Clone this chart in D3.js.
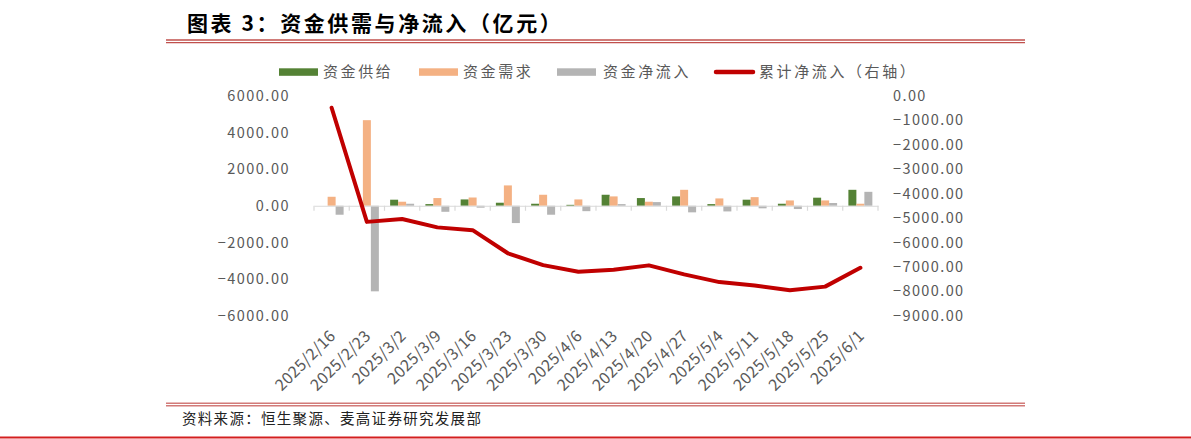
<!DOCTYPE html>
<html>
<head>
<meta charset="utf-8">
<script src="https://cdn.jsdelivr.net/npm/d3@7"></script>
<style>
  html, body { margin: 0; padding: 0; background: #fff; }
  svg { display: block; }
  text { font-family: "Noto Sans CJK SC", "Noto Sans", sans-serif; }
</style>
</head>
<body>
<svg id="chart" width="1191" height="439"></svg>
<script>
// ---- data ----
const categories = ["2025/2/16","2025/2/23","2025/3/2","2025/3/9","2025/3/16","2025/3/23","2025/3/30","2025/4/6","2025/4/13","2025/4/20","2025/4/27","2025/5/4","2025/5/11","2025/5/18","2025/5/25","2025/6/1"];
const supply = [0, 0, 330, 90, 345, 165, 110, 50, 600, 420, 510, 90, 330, 110, 440, 870];
const demand = [490, 4670, 220, 420, 450, 1110, 600, 345, 510, 220, 870, 400, 470, 290, 290, 110];
const netFlow = [-490, -4670, 110, -330, -105, -945, -490, -295, 90, 200, -360, -310, -140, -180, 150, 760];
const cumulative = [-490, -5160, -5040, -5385, -5500, -6445, -6930, -7200, -7120, -6940, -7310, -7625, -7760, -7955, -7810, -7040];
const leftTicks = [6000, 4000, 2000, 0, -2000, -4000, -6000];
const rightTicks = [0, -1000, -2000, -3000, -4000, -5000, -6000, -7000, -8000, -9000];
const seriesNames = ["资金供给", "资金需求", "资金净流入", "累计净流入（右轴）"];
const title = "图表 3：资金供需与净流入（亿元）";
const source = "资料来源：恒生聚源、麦高证券研究发展部";

const colors = { supply: "#548235", demand: "#F4B183", net: "#B4B4B4", line: "#C00000" };
const textGray = "#595959";

const svg = d3.select("#chart");

// ---- title & frame lines ----
svg.append("text").attr("x", 187).attr("y", 31)
  .attr("font-size", 21).attr("font-weight", 700).attr("fill", "#000")
  .attr("letter-spacing", 2.6).text(title);

[40, 42.6].forEach(y => svg.append("line").attr("x1", 166).attr("x2", 1025)
  .attr("y1", y).attr("y2", y).attr("stroke", "#C0504D").attr("stroke-width", 1.3));
[403.3, 405.8].forEach(y => svg.append("line").attr("x1", 166).attr("x2", 1025)
  .attr("y1", y).attr("y2", y).attr("stroke", "#D27A78").attr("stroke-width", 1.4));
svg.append("line").attr("x1", 0).attr("x2", 1191).attr("y1", 437.5).attr("y2", 437.5)
  .attr("stroke", "#D41F1F").attr("stroke-width", 2);

svg.append("text").attr("x", 182).attr("y", 424).attr("font-size", 14.5)
  .attr("letter-spacing", 1.3).attr("fill", "#222").text(source);

// ---- scales ----
const x = d3.scaleBand().domain(categories).range([314, 878]).paddingInner(0).paddingOuter(0);
const bw = x.bandwidth();
const xs = d3.scaleBand().domain(["supply", "demand", "net"]).range([bw * 0.16, bw * 0.84]);
const yL = d3.scaleLinear().domain([-6000, 6000]).range([315.7, 95.8]);
const yR = d3.scaleLinear().domain([-9000, 0]).range([315.7, 95.8]);

// ---- axes labels ----
const fmt = d3.format(".2f");
const axL = d3.axisLeft(yL).tickValues(leftTicks).tickFormat(fmt).tickSize(0).tickPadding(0);
const gL = svg.append("g").attr("transform", "translate(290,0)").call(axL);
gL.select(".domain").remove();
gL.selectAll("text").attr("font-size", 14.5).attr("fill", textGray)
  .attr("font-family", "'Noto Sans CJK SC', sans-serif").attr("letter-spacing", 1.5);

const axR = d3.axisRight(yR).tickValues(rightTicks).tickFormat(fmt).tickSize(0).tickPadding(0);
const gR = svg.append("g").attr("transform", "translate(893,0)").call(axR);
gR.select(".domain").remove();
gR.selectAll("text").attr("font-size", 14.5).attr("fill", textGray)
  .attr("font-family", "'Noto Sans CJK SC', sans-serif").attr("letter-spacing", 1.4);

// ---- bars ----
const rows = categories.map((c, i) => ({ c, supply: supply[i], demand: demand[i], net: netFlow[i] }));
const keys = ["supply", "demand", "net"];
const groups = svg.append("g").selectAll("g").data(rows).join("g")
  .attr("transform", d => `translate(${x(d.c)},0)`);
groups.selectAll("rect").data(d => keys.map(k => ({ k, v: d[k] }))).join("rect")
  .attr("x", d => xs(d.k)).attr("width", xs.bandwidth())
  .attr("y", d => yL(Math.max(0, d.v)))
  .attr("height", d => Math.abs(yL(d.v) - yL(0)))
  .attr("fill", d => colors[d.k]);

// ---- category axis on zero line ----
const axB = d3.axisBottom(x).tickSize(0).tickFormat("");
const gB = svg.append("g").attr("transform", `translate(0,${yL(0)})`).call(axB);
gB.select(".domain").attr("stroke", "#D9D9D9").attr("stroke-width", 1.2);
gB.selectAll(".tick").remove();
const bounds = categories.map(c => x(c)).concat([x(categories[categories.length - 1]) + bw]);
svg.append("g").selectAll("line").data(bounds).join("line")
  .attr("x1", d => d).attr("x2", d => d)
  .attr("y1", yL(0)).attr("y2", yL(0) + 5)
  .attr("stroke", "#D9D9D9").attr("stroke-width", 1.2);

// ---- rotated category labels ----
svg.append("g").selectAll("text").data(categories).join("text")
  .attr("transform", d => `translate(${x(d) + bw / 2 + 1},${333}) rotate(-45)`)
  .attr("text-anchor", "end").attr("dy", "0.35em")
  .attr("font-size", 16).attr("letter-spacing", 0.3).attr("fill", textGray)
  .attr("font-family", "'Noto Sans CJK SC', sans-serif")
  .text(d => d);

// ---- cumulative line ----
const line = d3.line().x((d, i) => x(categories[i]) + bw / 2).y(d => yR(d));
svg.append("path").datum(cumulative).attr("d", line)
  .attr("fill", "none").attr("stroke", colors.line).attr("stroke-width", 4)
  .attr("stroke-linejoin", "round").attr("stroke-linecap", "round");

// ---- legend ----
const legendItems = [
  { name: seriesNames[0], color: colors.supply, type: "rect", sx: 279, tx: 323 },
  { name: seriesNames[1], color: colors.demand, type: "rect", sx: 419, tx: 463 },
  { name: seriesNames[2], color: colors.net, type: "rect", sx: 557, tx: 603 },
  { name: seriesNames[3], color: colors.line, type: "line", sx: 714, tx: 759 }
];
const lg = svg.append("g");
legendItems.forEach(it => {
  if (it.type === "rect") {
    lg.append("rect").attr("x", it.sx).attr("y", 68.3).attr("width", 39).attr("height", 7.5).attr("fill", it.color);
  } else {
    lg.append("line").attr("x1", it.sx + 2).attr("x2", it.sx + 39).attr("y1", 72).attr("y2", 72)
      .attr("stroke", it.color).attr("stroke-width", 4.5).attr("stroke-linecap", "round");
  }
  lg.append("text").attr("x", it.tx).attr("y", 72).attr("dy", "0.35em")
    .attr("font-size", 15).attr("letter-spacing", 2.6).attr("fill", textGray).text(it.name);
});
</script>
</body>
</html>
